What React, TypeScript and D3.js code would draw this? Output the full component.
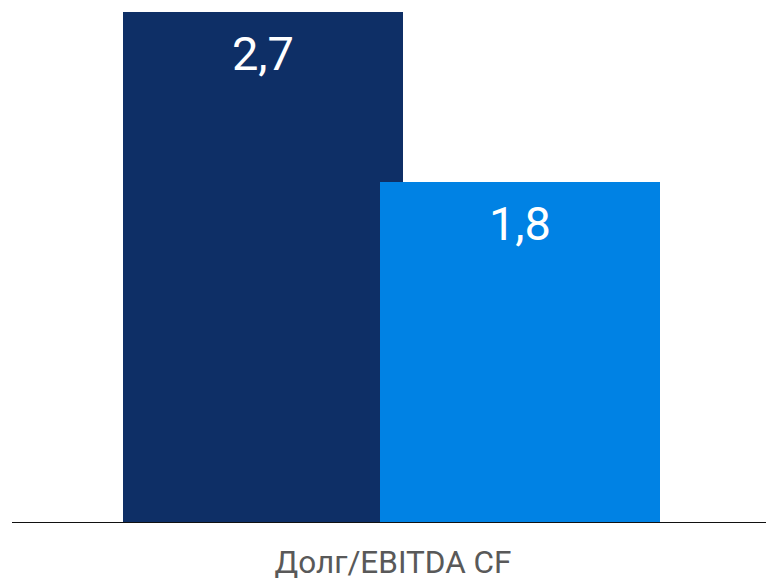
import React from "react";
import * as d3 from "d3";

const categories = ["Долг/EBITDA CF"];
const seriesNames = ["A", "B"];
const seriesValues = [2.7, 1.8];
const valueLabels = ["2,7", "1,8"];
const seriesColors = ["#0E2F66", "#0082E4"];

const W = 766;
const H = 578;

export default function App() {
  const y = d3.scaleLinear().domain([0, 2.7]).range([522, 12]);
  const xc = d3.scaleLinear().domain([0, seriesNames.length - 1]).range([263, 520]);
  const barW = 280;
  const font = "Roboto, 'Noto Sans', sans-serif";
  return (
    <svg
      width={W}
      height={H}
      style={{ position: "absolute", left: 0, top: 0, background: "#fff" }}
    >
      {seriesValues.map((v, i) => (
        <g key={seriesNames[i]}>
          <rect
            x={xc(i) - barW / 2}
            y={y(v)}
            width={barW}
            height={y(0) - y(v)}
            fill={seriesColors[i]}
          />
        </g>
      ))}
      {seriesValues.map((v, i) => (
        <text
          key={"l" + i}
          x={xc(i)}
          y={y(v) + 58}
          textAnchor="middle"
          fill="#fff"
          fontFamily={font}
          fontSize={47}
        >
          {valueLabels[i]}
        </text>
      ))}
      <line x1={12} x2={766} y1={522.5} y2={522.5} stroke="#111" strokeWidth={1.2} />
      <text
        x={393}
        y={573}
        textAnchor="middle"
        fill="#595959"
        fontFamily={font}
        fontSize={31.5}
      >
        {categories[0]}
      </text>
    </svg>
  );
}
